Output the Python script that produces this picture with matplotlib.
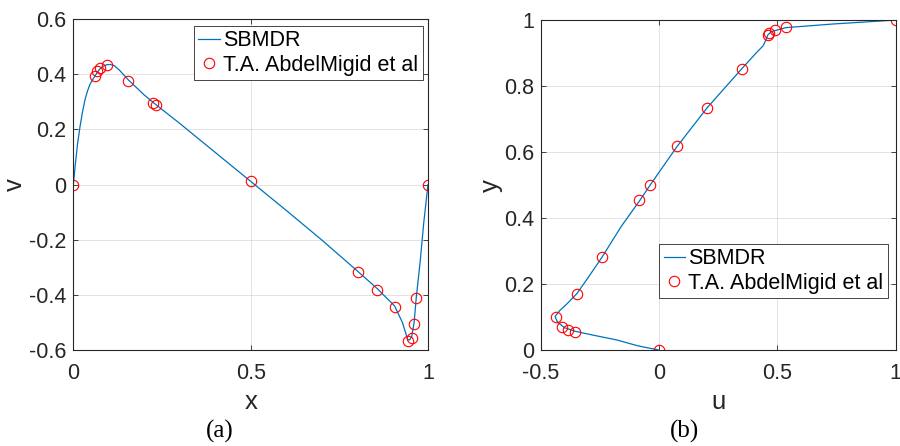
import matplotlib
matplotlib.use("Agg")
import matplotlib.pyplot as plt

plt.rcParams['font.family'] = ['Liberation Sans', 'DejaVu Sans']

# (a) v along x
xa_line = [0, 0.005, 0.012, 0.019, 0.026, 0.033, 0.04, 0.047, 0.055, 0.061, 0.068,
           0.075, 0.085, 0.095, 0.103, 0.115, 0.13, 0.155, 0.2, 0.233, 0.3, 0.4,
           0.5, 0.6, 0.7, 0.8, 0.857, 0.906, 0.928, 0.943, 0.948, 0.954, 0.961,
           0.967, 0.978, 0.988, 1.0]
va_line = [0, 0.067, 0.15, 0.212, 0.265, 0.309, 0.34, 0.364, 0.382, 0.394, 0.408,
           0.42, 0.43, 0.435, 0.436, 0.432, 0.415, 0.38, 0.325, 0.29, 0.222, 0.117,
           0.012, -0.093, -0.2, -0.312, -0.377, -0.44, -0.5, -0.562, -0.563, -0.552,
           -0.5, -0.41, -0.28, -0.14, 0.0]
xa_ref = [0, 0.061, 0.068, 0.075, 0.094, 0.155, 0.225, 0.233, 0.5,
          0.803, 0.857, 0.906, 0.945, 0.954, 0.961, 0.967, 1.0]
va_ref = [0, 0.394, 0.412, 0.422, 0.435, 0.376, 0.297, 0.287, 0.015,
          -0.316, -0.381, -0.445, -0.568, -0.556, -0.504, -0.411, 0]

# (b) y along u
ub_line = [0, -0.09, -0.18, -0.27, -0.355, -0.40, -0.43, -0.44, -0.42, -0.39,
           -0.348, -0.30, -0.242, -0.16, -0.083, -0.038, 0.076, 0.203, 0.349,
           0.41, 0.44, 0.452, 0.46, 0.475, 0.535, 0.734, 1.0]
yb_line = [0, 0.013, 0.031, 0.044, 0.057, 0.068, 0.085, 0.102, 0.12, 0.14,
           0.171, 0.22, 0.281, 0.375, 0.452, 0.5, 0.617, 0.734, 0.852,
           0.9, 0.922, 0.94, 0.955, 0.965, 0.977, 0.988, 1.0]
ub_ref = [0, -0.355, -0.386, -0.41, -0.435, -0.348, -0.242, -0.083, -0.038,
          0.076, 0.203, 0.349, 0.46, 0.465, 0.489, 0.535, 1.0]
yb_ref = [0, 0.055, 0.062, 0.07, 0.1, 0.171, 0.281, 0.454, 0.5,
          0.617, 0.734, 0.852, 0.954, 0.962, 0.97, 0.978, 1.0]

blue = (0, 0.447, 0.741)
dark = (0.15, 0.15, 0.15)

fig = plt.figure(figsize=(9, 4.46), dpi=100)
ax1 = fig.add_axes([0.0815, 0.215, 0.394, 0.742])
ax2 = fig.add_axes([0.601, 0.215, 0.394, 0.74])


def style(ax):
    ax.grid(True, color=dark, alpha=0.15, linewidth=0.6)
    ax.set_axisbelow(True)
    for s in ax.spines.values():
        s.set_color(dark)
        s.set_linewidth(0.8)
    ax.tick_params(direction='in', top=True, right=True, length=3.5, width=0.6,
                   colors=dark, labelsize=15.5, labelcolor=dark)
    ax.tick_params(axis='x', pad=9)
    ax.tick_params(axis='y', pad=5)


def legend(ax, loc, anchor):
    leg = ax.legend(loc=loc, bbox_to_anchor=anchor, fontsize=15.5,
                    frameon=True, fancybox=False, handlelength=1.0, handletextpad=0.15,
                    borderpad=0.2, labelspacing=0.15, borderaxespad=0, framealpha=1)
    leg.get_frame().set_edgecolor(dark)
    leg.get_frame().set_linewidth(0.6)
    return leg


ax1.plot(xa_line, va_line, color=blue, linewidth=0.9, label='SBMDR')
ax1.plot(xa_ref, va_ref, 'o', markerfacecolor='none', markeredgecolor='red',
         markersize=7.5, markeredgewidth=0.8, label='T.A. AbdelMigid et al')
ax1.set_xlim(0, 1)
ax1.set_ylim(-0.6, 0.6)
ax1.set_xticks([0, 0.5, 1])
ax1.set_xticklabels(['0', '0.5', '1'])
ax1.set_yticks([-0.6, -0.4, -0.2, 0, 0.2, 0.4, 0.6])
ax1.set_yticklabels(['-0.6', '-0.4', '-0.2', '0', '0.2', '0.4', '0.6'])
style(ax1)
ax1.set_xlabel('x', fontsize=18.5, color=dark)
ax1.set_ylabel('v', fontsize=18.5, color=dark)
ax1.xaxis.label.set_va('center')
ax1.yaxis.label.set_va('center')
ax1.xaxis.set_label_coords(0.5, -0.157)
ax1.yaxis.set_label_coords(-0.166, 0.5)
legend(ax1, 'upper right', (0.985, 0.979))

ax2.plot(ub_line, yb_line, color=blue, linewidth=0.9, label='SBMDR')
ax2.plot(ub_ref, yb_ref, 'o', markerfacecolor='none', markeredgecolor='red',
         markersize=7.5, markeredgewidth=0.8, label='T.A. AbdelMigid et al')
ax2.set_xlim(-0.5, 1)
ax2.set_ylim(0, 1)
ax2.set_xticks([-0.5, 0, 0.5, 1])
ax2.set_xticklabels(['-0.5', '0', '0.5', '1'])
ax2.set_yticks([0, 0.2, 0.4, 0.6, 0.8, 1])
ax2.set_yticklabels(['0', '0.2', '0.4', '0.6', '0.8', '1'])
style(ax2)
ax2.set_xlabel('u', fontsize=18.5, color=dark)
ax2.set_ylabel('y', fontsize=18.5, color=dark)
ax2.xaxis.label.set_va('center')
ax2.yaxis.label.set_va('center')
ax2.xaxis.set_label_coords(0.5, -0.157)
ax2.yaxis.set_label_coords(-0.14, 0.5)
legend(ax2, 'lower right', (0.978, 0.158))

fig.text(0.244, 0.033, '(a)', fontsize=18, family='Liberation Serif', ha='center', va='center')
fig.text(0.761, 0.033, '(b)', fontsize=18, family='Liberation Serif', ha='center', va='center')

fig.savefig('out.png', dpi=100)
